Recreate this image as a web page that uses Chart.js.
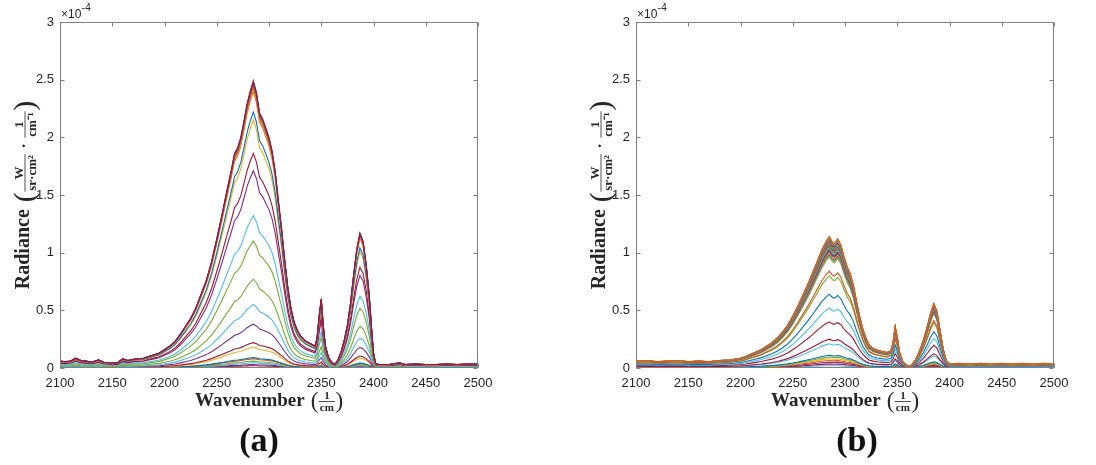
<!DOCTYPE html>
<html>
<head>
<meta charset="utf-8">
<script src="https://cdn.jsdelivr.net/npm/chart.js@4.4.0/dist/chart.umd.min.js"></script>
<style>
  html, body { margin: 0; padding: 0; background: #fff; }
  #wrap { position: relative; width: 1096px; height: 465px; overflow: hidden; }
  canvas { position: absolute; top: 0; }
  #cvA { left: 0; }
  #cvB { left: 548px; }
  .cap { position: absolute; top: 421px; line-height: 34px; font: bold 34px "Liberation Serif", serif; color: #111; transform: translateX(-50%); white-space: nowrap; }
</style>
</head>
<body>
<div id="wrap">
  <canvas id="cvA" width="548" height="465"></canvas>
  <canvas id="cvB" width="548" height="465"></canvas>
  <div class="cap" style="left:259px">(a)</div>
  <div class="cap" style="left:857px">(b)</div>
</div>
<script>
// axis ticks (radiance in units of 1e-4)
const xTickVals = [2100, 2150, 2200, 2250, 2300, 2350, 2400, 2450, 2500];
const yTickVals = [0, 0.5, 1, 1.5, 2, 2.5, 3];

// (a) strongest spectrum, wavenumber vs radiance
const wnA = [2100, 2105, 2110, 2115, 2120, 2125, 2130, 2137, 2142, 2150, 2155, 2160, 2165, 2170, 2175, 2180,
  2185, 2190, 2195, 2200, 2205, 2210, 2215, 2220, 2225, 2230, 2235, 2240, 2245, 2250, 2255, 2260, 2264, 2267,
  2270, 2273, 2276, 2279, 2282, 2285, 2288, 2291, 2294, 2297, 2300, 2303, 2306, 2309, 2312, 2315, 2318, 2321,
  2324, 2327, 2330, 2335, 2340, 2344, 2346, 2348, 2350, 2352, 2354, 2357, 2360, 2363, 2366, 2369, 2372, 2375,
  2378, 2381, 2384, 2387, 2390, 2393, 2396, 2398, 2400, 2402, 2405, 2415, 2425, 2430, 2440, 2450, 2460, 2470,
  2480, 2490, 2500];
const radA = [0.06, 0.055, 0.06, 0.085, 0.065, 0.06, 0.05, 0.07, 0.05, 0.045, 0.045, 0.08, 0.065, 0.075, 0.08, 0.085,
  0.10, 0.115, 0.13, 0.16, 0.19, 0.23, 0.29, 0.36, 0.43, 0.52, 0.64, 0.76, 0.92, 1.12, 1.33, 1.55, 1.72, 1.86,
  1.91, 2.00, 2.14, 2.29, 2.40, 2.49, 2.39, 2.21, 2.16, 2.08, 2.00, 1.88, 1.70, 1.45, 1.21, 0.94, 0.70, 0.52,
  0.40, 0.33, 0.28, 0.235, 0.21, 0.19, 0.26, 0.45, 0.60, 0.36, 0.19, 0.09, 0.05, 0.03, 0.07, 0.14, 0.24, 0.37,
  0.56, 0.81, 1.03, 1.17, 1.10, 0.90, 0.62, 0.36, 0.13, 0.04, 0.03, 0.03, 0.045, 0.03, 0.035, 0.03, 0.03, 0.035,
  0.03, 0.035, 0.035];
// (a) main-band peak height of every recorded spectrum
const peaksA = [2.49, 2.48, 2.47, 2.46, 2.44, 2.42, 2.40, 2.22, 2.15, 1.86, 1.71, 1.32, 1.10, 0.77, 0.55, 0.38,
  0.22, 0.18, 0.09, 0.08, 0.06, 0.045, 0.03, 0.02];

// (b) strongest spectrum
const wnB = [2100, 2110, 2120, 2130, 2140, 2150, 2160, 2170, 2180, 2190, 2200, 2205, 2210, 2215, 2220, 2225,
  2230, 2235, 2240, 2245, 2250, 2255, 2260, 2265, 2270, 2274, 2278, 2282, 2285, 2288, 2290, 2293, 2296, 2299,
  2302, 2305, 2308, 2311, 2314, 2317, 2320, 2323, 2327, 2331, 2335, 2340, 2344, 2346, 2348, 2350, 2352, 2355,
  2359, 2363, 2367, 2371, 2375, 2379, 2382, 2385, 2388, 2391, 2394, 2397, 2400, 2410, 2420, 2430, 2440, 2450,
  2460, 2470, 2480, 2490, 2500];
const radB = [0.06, 0.065, 0.055, 0.06, 0.065, 0.055, 0.06, 0.055, 0.065, 0.07, 0.085, 0.10, 0.12, 0.14, 0.16, 0.19,
  0.22, 0.26, 0.31, 0.37, 0.45, 0.54, 0.64, 0.74, 0.85, 0.94, 1.03, 1.10, 1.14, 1.09, 1.08, 1.12, 1.07, 0.97,
  0.88, 0.82, 0.72, 0.58, 0.45, 0.34, 0.26, 0.20, 0.17, 0.155, 0.145, 0.135, 0.15, 0.22, 0.36, 0.27, 0.14, 0.06,
  0.02, 0.02, 0.06, 0.14, 0.24, 0.37, 0.48, 0.56, 0.49, 0.32, 0.16, 0.06, 0.035, 0.04, 0.035, 0.04, 0.035, 0.04,
  0.035, 0.04, 0.035, 0.04, 0.035];
const peaksB = [1.14, 1.135, 1.13, 1.125, 1.12, 1.115, 1.11, 1.105, 1.10, 1.095, 1.09, 1.085, 1.08, 1.075, 1.07,
  1.065, 1.06, 1.05, 1.04, 1.03, 1.02, 1.01, 1.00, 0.99, 0.98, 0.97, 0.96, 0.84, 0.80, 0.64, 0.52, 0.40, 0.25,
  0.21, 0.11, 0.095, 0.08, 0.065, 0.05, 0.035, 0.02];

// line colours (MATLAB default order)
const BLU = '#0072BD', ORA = '#D95319', YEL = '#EDB120', PUR = '#7E2F8E', GRN = '#77AC30', CYA = '#4DBEEE', RED = '#A2142F';
const colorsA = [RED, PUR, BLU, ORA, ORA, YEL, ORA, BLU, YEL, RED, PUR, CYA, GRN, GRN, CYA, PUR, RED, YEL, BLU, ORA,
  GRN, CYA, PUR, RED];
const colorsB = [ORA, YEL, PUR, GRN, CYA, RED, BLU, ORA, YEL, PUR, GRN, CYA, RED, BLU, ORA, YEL, PUR, GRN, CYA, RED,
  BLU, ORA, YEL, PUR, GRN, CYA, YEL, ORA, GRN, BLU, CYA, RED, RED, CYA, BLU, GRN, YEL, ORA, PUR, RED, CYA];

const INK = '#262626';
const AXIS = '#808080';

// draws a text run with inline fractions, centred on (cx, cy), fraction bar on cy
function drawMath(ctx, parts, cx, cy, angle) {
  ctx.save();
  ctx.translate(cx, cy);
  ctx.rotate(angle);
  let total = 0;
  parts.forEach(p => {
    if (p.gap) { p.w = p.gap; }
    else if (p.frac) {
      ctx.font = p.font;
      p.w = Math.max(ctx.measureText(p.num).width, ctx.measureText(p.den).width) + 3;
    } else {
      ctx.font = p.font;
      p.w = ctx.measureText(p.text).width;
    }
    total += p.w;
  });
  let x = -total / 2;
  ctx.fillStyle = INK;
  ctx.strokeStyle = INK;
  ctx.textBaseline = 'alphabetic';
  parts.forEach(p => {
    if (p.frac) {
      ctx.font = p.font;
      ctx.textAlign = 'center';
      const mid = x + p.w / 2;
      ctx.fillText(p.num, mid, -2.5);
      ctx.fillText(p.den, mid, p.denY);
      ctx.lineWidth = 0.8;
      ctx.beginPath();
      ctx.moveTo(x + 0.5, 0);
      ctx.lineTo(x + p.w - 0.5, 0);
      ctx.stroke();
    } else if (p.text) {
      ctx.font = p.font;
      ctx.textAlign = 'left';
      ctx.fillText(p.text, x, p.dy);
    }
    x += p.w;
  });
  ctx.restore();
}

const SERIF = '"Liberation Serif", serif';
const yTitle = [
  { text: 'Radiance', font: 'bold 20px ' + SERIF, dy: 4 },
  { gap: 7 },
  { text: '(', font: '30px ' + SERIF, dy: 9 },
  { frac: true, num: 'W', den: 'sr·cm²', font: 'bold 13px ' + SERIF, denY: 11 },
  { gap: 5 },
  { text: '·', font: 'bold 16px ' + SERIF, dy: 4 },
  { gap: 5 },
  { frac: true, num: '1', den: 'cm⁻¹', font: 'bold 13px ' + SERIF, denY: 11 },
  { text: ')', font: '30px ' + SERIF, dy: 9 }
];
const xTitle = [
  { text: 'Wavenumber', font: 'bold 19px ' + SERIF, dy: 4.5 },
  { gap: 6 },
  { text: '(', font: '23px ' + SERIF, dy: 6 },
  { frac: true, num: '1', den: 'cm', font: 'bold 11px ' + SERIF, denY: 9 },
  { text: ')', font: '23px ' + SERIF, dy: 6 }
];

// box, inward ticks on all four sides, exponent and axis titles
const framePlugin = {
  id: 'frame',
  afterDraw(chart) {
    const { ctx, chartArea: a, scales: { x, y } } = chart;
    ctx.save();
    ctx.strokeStyle = AXIS;
    ctx.lineWidth = 1;
    const L = Math.round(a.left) + 0.5, R = Math.round(a.right) - 0.5;
    const T = Math.round(a.top) + 0.5, B = Math.round(a.bottom) - 0.5;
    ctx.strokeRect(L, T, R - L, B - T);
    ctx.beginPath();
    xTickVals.forEach(v => {
      const px = Math.round(x.getPixelForValue(v)) + 0.5;
      ctx.moveTo(px, B); ctx.lineTo(px, B - 4);
      ctx.moveTo(px, T); ctx.lineTo(px, T + 4);
    });
    yTickVals.forEach(v => {
      const py = Math.round(y.getPixelForValue(v)) + 0.5;
      ctx.moveTo(L, py); ctx.lineTo(L + 4, py);
      ctx.moveTo(R, py); ctx.lineTo(R - 4, py);
    });
    ctx.stroke();

    // ×10^-4 multiplier
    ctx.fillStyle = INK;
    ctx.textAlign = 'left';
    ctx.textBaseline = 'alphabetic';
    ctx.font = '12px "Liberation Sans", sans-serif';
    const ex = a.left + 1;
    ctx.fillText('×10', ex, 18);
    const w = ctx.measureText('×10').width;
    ctx.font = '10px "Liberation Sans", sans-serif';
    ctx.fillText('-4', ex + w + 0.5, 11);

    drawMath(ctx, xTitle, (a.left + a.right) / 2, 401.5, 0);
    drawMath(ctx, yTitle, a.left - 35, (a.top + a.bottom) / 2, -Math.PI / 2);
    ctx.restore();
  }
};

function makePanel(canvasId, wn, rad, peaks, colors, padLeft, padRight) {
  const top = Math.max(...rad);
  const datasets = peaks.map((pk, k) => ({
    data: wn.map((w, i) => ({ x: w, y: rad[i] * pk / top })),
    borderColor: colors[k],
    borderWidth: 1.1,
    pointRadius: 0,
    fill: false,
    tension: 0
  }));
  const tickFont = { family: '"Liberation Sans", sans-serif', size: 13 };
  return new Chart(document.getElementById(canvasId).getContext('2d'), {
    type: 'line',
    data: { datasets },
    options: {
      responsive: false,
      animation: false,
      devicePixelRatio: 1,
      layout: { padding: { left: 0, right: padRight, top: 22, bottom: 0 } },
      scales: {
        x: {
          type: 'linear',
          min: 2100, max: 2500,
          afterBuildTicks: s => { s.ticks = xTickVals.map(v => ({ value: v })); },
          afterFit: s => { s.height = 97; },
          grid: { display: false, drawTicks: false },
          border: { display: false },
          ticks: { color: INK, font: tickFont, padding: 8, maxRotation: 0, callback: v => String(v) }
        },
        y: {
          min: 0, max: 3,
          afterBuildTicks: s => { s.ticks = yTickVals.map(v => ({ value: v })); },
          afterFit: s => { s.width = padLeft; },
          grid: { display: false, drawTicks: false },
          border: { display: false },
          ticks: { color: INK, font: tickFont, padding: 6, callback: v => String(v) }
        }
      },
      plugins: { legend: { display: false }, tooltip: { enabled: false } }
    },
    plugins: [framePlugin]
  });
}

makePanel('cvA', wnA, radA, peaksA, colorsA, 60, 70);
makePanel('cvB', wnB, radB, peaksB, colorsB, 88, 42);
</script>
</body>
</html>
